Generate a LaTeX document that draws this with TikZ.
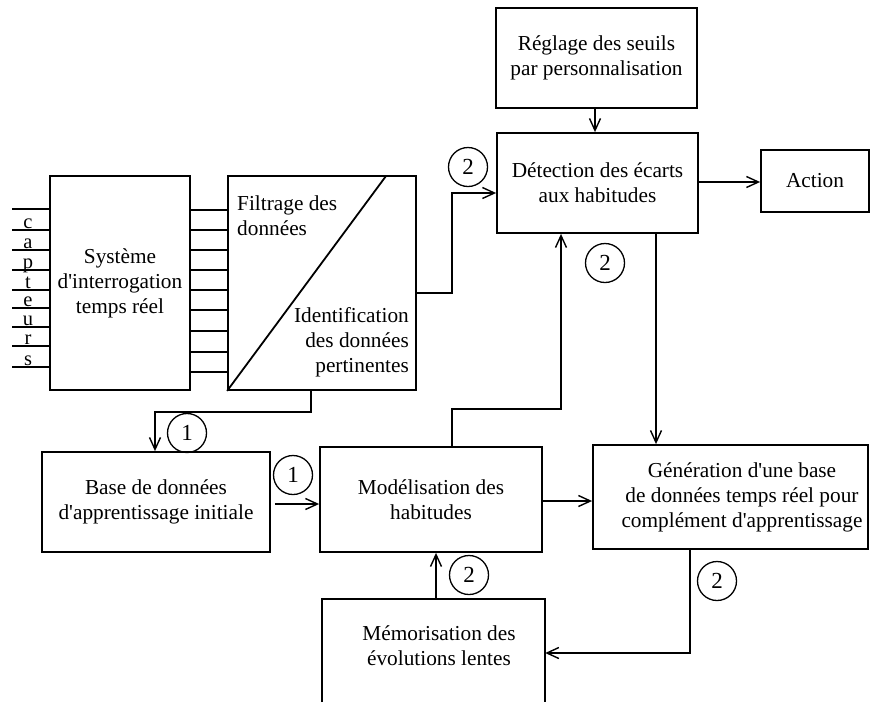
\documentclass[tikz,border=0pt]{standalone}
\usepackage{fontspec}
\newfontfamily\diagfont{Liberation Serif}
\usetikzlibrary{arrows.meta}

\begin{document}
\begin{tikzpicture}[x=1pt,y=-1pt,
  every node/.style={font=\diagfont\fontsize{21.3}{25}\selectfont},
  frame/.style={line width=1.8pt},
  box/.style={draw,frame,inner sep=0pt,align=center},
  lbl/.style={inner sep=0pt},
  letter/.style={inner sep=0pt,anchor=base,text height=1.2ex,text depth=0pt,
                 font=\diagfont\fontsize{20.5}{20}\selectfont},
  wire/.style={line width=1.4pt},
  flow/.style={line width=1.4pt,-{Straight Barb[length=12pt,width=11pt,line width=1.4pt]}},
  tag/.style={draw,circle,line width=1.3pt,minimum size=39pt,inner sep=0pt,
              font=\diagfont\fontsize{23}{25}\selectfont}]

\useasboundingbox (0,0) rectangle (872,702);

% boxes
\node[box,minimum width=140,minimum height=214] (sys) at (120,283)
  {Système\\d'interrogation\\temps réel};
\node[box,minimum width=188,minimum height=214] (filt) at (322,283) {};
\node[box,minimum width=201,minimum height=100] (regl) at (596.5,58)
  {Réglage des seuils\\par personnalisation};
\node[box,minimum width=201,minimum height=100] (det) at (597.5,183)
  {Détection des écarts\\aux habitudes};
\node[box,minimum width=108,minimum height=62] (act) at (815,181) {Action};
\node[box,minimum width=228,minimum height=100] (base) at (156,502)
  {Base de données\\d'apprentissage initiale};
\node[box,minimum width=222,minimum height=105] (mod) at (431,499.5)
  {Modélisation des\\habitudes};
\node[box,minimum width=275,minimum height=104] (gen) at (730.5,497) {};
\node[lbl,align=center] (gentxt) at (742,497)
  {Génération d'une base\\de données temps réel pour\\complément d'apprentissage};
\node[lbl,minimum width=223,minimum height=103] (mem) at (433.5,650.5) {};
\node[lbl,align=center] (memtxt) at (439,646)
  {Mémorisation des\\évolutions lentes};
\draw[frame] (mem.south west) -- (mem.north west) -- (mem.north east) -- (mem.south east);

% split box: filtering / identification
\coordinate (diag) at (386,176);
\draw[frame] (filt.south west) -- (diag);
\node[lbl,anchor=west,align=left] (filtxt) at (237,215.5) {Filtrage des\\données};
\node[lbl,anchor=east,align=right] (identxt) at (409,342.5)
  {Identification\\des données\\pertinentes};

% sensor inputs
\foreach \y in {209,230,250,270,290,308,327,346,367}
  \draw[wire] (12,\y) -- (sys.west |- 0,\y);
\foreach \l/\y in {c/230,a/250,p/270,t/290,e/308,u/327,r/346,s/367}
  \node[letter] at (28,\y-1.5) {\l};

% bus between interrogation and filtering
\foreach \y in {210,230,250,270,290,310,331,352,372}
  \draw[wire] (sys.east |- 0,\y) -- (filt.west |- 0,\y);

% connectors
\draw[flow] (filt.east |- 0,293) -- (452,293) -- (452,193) -- (det.west |- 0,193);
\draw[flow] (regl.south -| 595,0) -- (det.north -| 595,0);
\draw[flow] (det.east |- 0,182) -- (act.west |- 0,182);
\draw[flow] (filt.south -| 311,0) -- (311,412) -- (155,412) -- (base.north -| 155,0);
\draw[flow] ([xshift=4pt]base.east |- 0,504) -- (mod.west |- 0,504);
\draw[flow] (mod.north -| 452,0) -- (452,409) -- (561,409) -- (det.south -| 561,0);
\draw[flow] (det.south -| 656,0) -- (gen.north -| 656,0);
\draw[flow] (mod.east |- 0,501) -- (gen.west |- 0,501);
\draw[flow] (gen.south -| 690,0) -- (690,653) -- (mem.east |- 0,653);
\draw[flow] (mem.north -| 436,0) -- (mod.south -| 436,0);

% phase markers
\node[tag] (p2a) at (468,167) {2};
\node[tag] (p2b) at (605,263) {2};
\node[tag] (p1a) at (187,433) {1};
\node[tag] (p1b) at (293,475) {1};
\node[tag] (p2c) at (469,575) {2};
\node[tag] (p2d) at (717,581) {2};
\end{tikzpicture}
\end{document}
